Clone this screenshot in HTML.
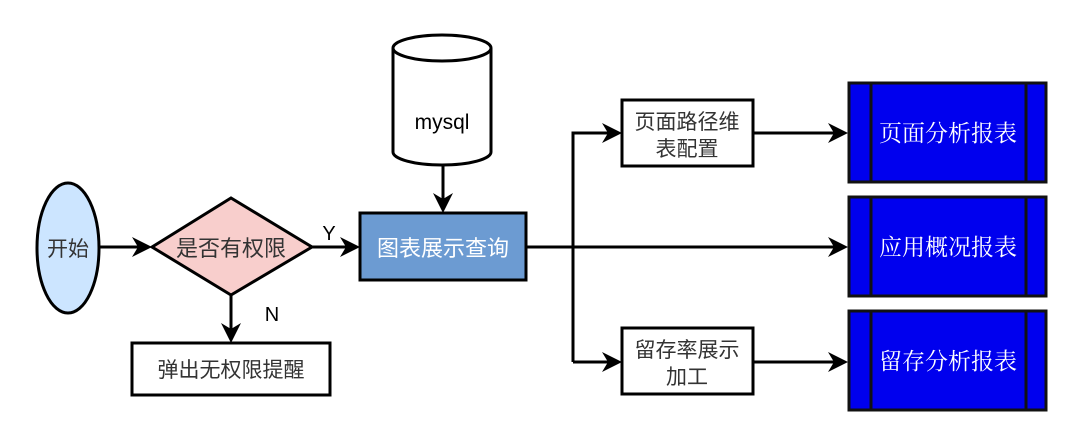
<!DOCTYPE html>
<html><head><meta charset="utf-8"><style>
html,body{margin:0;padding:0;background:#fff;}
svg{display:block;}
.cn{font-family:"Liberation Sans","Noto Sans CJK SC",sans-serif;}
.sf{font-family:"Liberation Serif","Noto Serif CJK SC",serif;}
</style></head><body>
<svg width="1080" height="443" viewBox="0 0 1080 443" xmlns="http://www.w3.org/2000/svg">
<g stroke="#000" stroke-width="3" fill="none">
<line x1="100" y1="247" x2="140" y2="247"/>
<line x1="312" y1="247" x2="350" y2="247"/>
<line x1="231" y1="295" x2="231" y2="333"/>
<line x1="443" y1="165" x2="443" y2="203"/>
<line x1="526" y1="247" x2="838" y2="247"/>
<polyline points="573,362 573,133 612,133"/>
<line x1="573" y1="362" x2="612" y2="362"/>
<line x1="753" y1="133" x2="838" y2="133"/>
<line x1="753" y1="362" x2="838" y2="362"/>
</g>
<g fill="#000">
<polygon points="152,247 132,237 138,247 132,257"/>
<polygon points="360,247 340,237 346,247 340,257"/>
<polygon points="231,343 221,323 231,329 241,323"/>
<polygon points="443,213 433,193 443,199 453,193"/>
<polygon points="622,133 602,123 608,133 602,143"/>
<polygon points="622,362 602,352 608,362 602,372"/>
<polygon points="848,133 828,123 834,133 828,143"/>
<polygon points="848,247 828,237 834,247 828,257"/>
<polygon points="848,362 828,352 834,362 828,372"/>
</g>
<ellipse cx="68" cy="248" rx="31" ry="65" fill="#cce5ff" stroke="#000" stroke-width="3"/>
<text x="68" y="256" text-anchor="middle" class="cn" font-size="21" fill="#333">开始</text>
<polygon points="152,247 231,198 312,247 231,295" fill="#f8cecc" stroke="#000" stroke-width="3"/>
<text x="231" y="256" text-anchor="middle" class="cn" font-size="22" fill="#333">是否有权限</text>
<text x="329" y="240" text-anchor="middle" class="cn" font-size="20" fill="#000">Y</text>
<text x="272" y="321" text-anchor="middle" class="cn" font-size="20" fill="#000">N</text>
<rect x="132" y="343" width="198" height="52" fill="#fff" stroke="#000" stroke-width="3"/>
<text x="231" y="377" text-anchor="middle" class="cn" font-size="21" fill="#333">弹出无权限提醒</text>
<path d="M393,48 L393,152 A49,13 0 0 0 491,152 L491,48" fill="#fff" stroke="#000" stroke-width="3"/>
<ellipse cx="442" cy="48" rx="49" ry="13" fill="#fff" stroke="#000" stroke-width="3"/>
<text x="442" y="129" text-anchor="middle" class="cn" font-size="21" fill="#000">mysql</text>
<rect x="360" y="213" width="166" height="67" fill="#6c9bd2" stroke="#000" stroke-width="3"/>
<text x="443" y="256" text-anchor="middle" class="cn" font-size="22" fill="#fff">图表展示查询</text>
<rect x="622" y="100" width="131" height="66" fill="#fff" stroke="#000" stroke-width="3"/>
<text x="687" y="129" text-anchor="middle" class="cn" font-size="21" fill="#333">页面路径维</text>
<text x="687" y="156" text-anchor="middle" class="cn" font-size="21" fill="#333">表配置</text>
<rect x="622" y="328" width="131" height="66" fill="#fff" stroke="#000" stroke-width="3"/>
<text x="687" y="357" text-anchor="middle" class="cn" font-size="21" fill="#333">留存率展示</text>
<text x="687" y="384" text-anchor="middle" class="cn" font-size="21" fill="#333">加工</text>
<g stroke="#111" stroke-width="3">
<rect x="849" y="83" width="197" height="99" fill="#0000ee"/>
<line x1="871" y1="83" x2="871" y2="182"/><line x1="1026" y1="83" x2="1026" y2="182"/>
<rect x="849" y="197" width="197" height="99" fill="#0000ee"/>
<line x1="871" y1="197" x2="871" y2="296"/><line x1="1026" y1="197" x2="1026" y2="296"/>
<rect x="849" y="311" width="197" height="99" fill="#0000ee"/>
<line x1="871" y1="311" x2="871" y2="410"/><line x1="1026" y1="311" x2="1026" y2="410"/>
</g>
<g class="sf" font-size="23" fill="#fff" text-anchor="middle">
<text x="948" y="141">页面分析报表</text>
<text x="948" y="255">应用概况报表</text>
<text x="948" y="369">留存分析报表</text>
</g>
</svg>
</body></html>
